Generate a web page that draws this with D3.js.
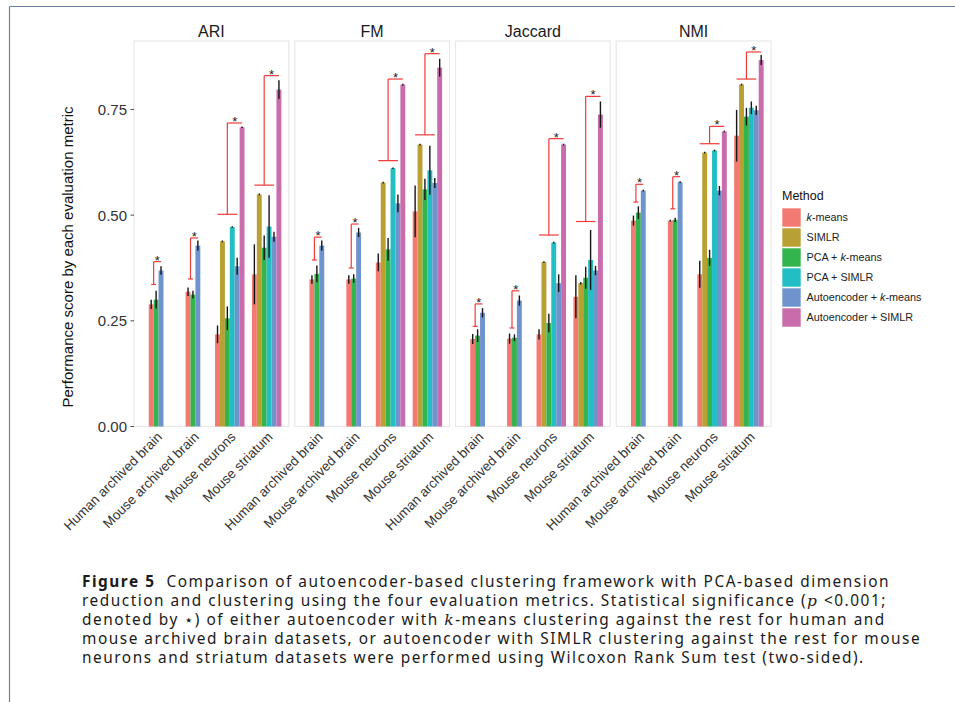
<!DOCTYPE html>
<html><head><meta charset="utf-8">
<script src="https://cdn.jsdelivr.net/npm/d3@7"></script>
<style>body{margin:0;background:#fff} svg{display:block}</style>
</head><body>
<svg id="c" width="955" height="702"></svg>
<script>
// ---------- data ----------
const metrics = ["ARI", "FM", "Jaccard", "NMI"];
const datasets = ["Human archived brain", "Mouse archived brain", "Mouse neurons", "Mouse striatum"];
const methods = ["k-means", "SIMLR", "PCA + k-means", "PCA + SIMLR", "Autoencoder + k-means", "Autoencoder + SIMLR"];
const yTicks = [0, 0.25, 0.5, 0.75];

// rows = datasets, columns = methods (null = method not shown)
const ariMean = [[0.289, null, 0.300, null, 0.369, null],
                 [0.319, null, 0.312, null, 0.428, null],
                 [0.218, 0.438, 0.256, 0.472, 0.379, 0.708],
                 [0.360, 0.549, 0.423, 0.473, 0.449, 0.797]];
const ariErr  = [[0.011, null, 0.021, null, 0.010, null],
                 [0.010, null, 0.009, null, 0.012, null],
                 [0.021, 0.002, 0.028, 0.002, 0.020, 0.002],
                 [0.071, 0.002, 0.029, 0.074, 0.012, 0.022]];
const fmMean  = [[0.348, null, 0.361, null, 0.428, null],
                 [0.348, null, 0.350, null, 0.459, null],
                 [0.388, 0.577, 0.419, 0.611, 0.528, 0.809],
                 [0.509, 0.667, 0.561, 0.606, 0.576, 0.849]];
const fmErr   = [[0.010, null, 0.020, null, 0.012, null],
                 [0.010, null, 0.010, null, 0.011, null],
                 [0.021, 0.002, 0.027, 0.002, 0.021, 0.002],
                 [0.061, 0.002, 0.025, 0.058, 0.012, 0.021]];
const jacMean = [[0.207, null, 0.215, null, 0.269, null],
                 [0.208, null, 0.210, null, 0.298, null],
                 [0.218, 0.389, 0.245, 0.435, 0.339, 0.667],
                 [0.307, 0.339, 0.352, 0.394, 0.369, 0.738]];
const jacErr  = [[0.012, null, 0.015, null, 0.011, null],
                 [0.012, null, 0.008, null, 0.012, null],
                 [0.012, 0.002, 0.022, 0.002, 0.021, 0.002],
                 [0.051, 0.003, 0.026, 0.071, 0.011, 0.031]];
const nmiMean = [[0.487, null, 0.506, null, 0.558, null],
                 [0.487, null, 0.489, null, 0.578, null],
                 [0.360, 0.648, 0.399, 0.653, 0.558, 0.698],
                 [0.688, 0.809, 0.733, 0.754, 0.748, 0.867]];
const nmiErr  = [[0.012, null, 0.015, null, 0.002, null],
                 [0.002, null, 0.005, null, 0.002, null],
                 [0.032, 0.002, 0.019, 0.002, 0.011, 0.002],
                 [0.061, 0.002, 0.021, 0.015, 0.011, 0.012]];

// significance brackets: [lower level, upper level] per dataset
const ariBracket = [[0.336, 0.390], [0.349, 0.446], [0.502, 0.718], [0.571, 0.830]];
const fmBracket  = [[0.394, 0.448], [0.375, 0.479], [0.629, 0.822], [0.690, 0.882]];
const jacBracket = [[0.237, 0.290], [0.233, 0.321], [0.453, 0.681], [0.485, 0.781]];
const nmiBracket = [[0.531, 0.573], [0.515, 0.591], [0.669, 0.710], [0.822, 0.886]];
// method compared against the rest, per dataset
const targetMethod = ["Autoencoder + k-means", "Autoencoder + k-means", "Autoencoder + SIMLR", "Autoencoder + SIMLR"];

const allMean = [ariMean, fmMean, jacMean, nmiMean];
const allErr = [ariErr, fmErr, jacErr, nmiErr];
const allBracket = [ariBracket, fmBracket, jacBracket, nmiBracket];

const colors = ["#f27a72", "#b8a033", "#34b44c", "#22bec3", "#6f93cc", "#c96cab"];

// ---------- layout ----------
const svg = d3.select("#c");
const frameColor = "#6b7fa3";
svg.append("line").attr("x1", 9.5).attr("y1", 6.5).attr("x2", 955).attr("y2", 6.5)
  .attr("stroke", frameColor).attr("stroke-width", 1.2);
svg.append("line").attr("x1", 9.5).attr("y1", 6.5).attr("x2", 9.5).attr("y2", 702)
  .attr("stroke", frameColor).attr("stroke-width", 1.2);

const plotLeft = 134, plotRight = 771, gap = 6, pTop = 41, pBottom = 426.5;
const pw = (plotRight - plotLeft - 3 * gap) / 4;
const y = d3.scaleLinear().domain([0, 0.912]).range([pBottom, pTop]);
const x = d3.scaleLinear().domain([0.4, 4.6]).range([0, pw]);
const dodge = 0.8, bw = dodge / 6;
const color = d3.scaleOrdinal().domain(methods).range(colors);
const font = "'Liberation Sans', Arial, sans-serif";

metrics.forEach((metric, m) => {
  const g = svg.append("g").attr("transform", `translate(${plotLeft + m * (pw + gap)},0)`);
  g.append("rect").attr("x", 0).attr("y", pTop).attr("width", pw).attr("height", pBottom - pTop)
    .attr("fill", "#fff").attr("stroke", "#e8e8e8").attr("stroke-width", 1.2);
  g.append("text").attr("x", pw / 2).attr("y", 36.5).attr("text-anchor", "middle")
    .attr("font-family", font).attr("font-size", 16).attr("fill", "#1a1a1a").text(metric);

  datasets.forEach((ds, i) => {
    const means = allMean[m][i], errs = allErr[m][i];
    const present = methods.map((meth, j) => ({ meth, j, v: means[j], e: errs[j] })).filter(d => d.v !== null);
    const n = present.length;
    present.forEach((d, k) => { d.cx = (i + 1) + (k - (n - 1) / 2) * bw; });

    g.selectAll(null).data(present).enter().append("rect")
      .attr("x", d => x(d.cx - bw / 2)).attr("width", x(bw) - x(0))
      .attr("y", d => y(d.v)).attr("height", d => y(0) - y(d.v))
      .attr("fill", d => color(d.meth));

    g.selectAll(null).data(present).enter().append("line")
      .attr("x1", d => x(d.cx)).attr("x2", d => x(d.cx))
      .attr("y1", d => y(d.v - d.e)).attr("y2", d => y(d.v + d.e))
      .attr("stroke", "#151515").attr("stroke-width", 1.4);

    // bracket
    const tgt = present.find(d => d.meth === targetMethod[i]);
    const rest = present.filter(d => d !== tgt);
    const [lo, hi] = allBracket[m][i];
    const r0 = rest[0].cx, r1 = rest[rest.length - 1].cx, mid = (r0 + r1) / 2;
    const bg = g.append("g").attr("stroke", "#f03a3a").attr("stroke-width", 1.2).attr("fill", "none");
    bg.append("line").attr("x1", x(r0)).attr("x2", x(r1)).attr("y1", y(lo)).attr("y2", y(lo));
    bg.append("line").attr("x1", x(mid)).attr("x2", x(mid)).attr("y1", y(lo)).attr("y2", y(hi));
    bg.append("line").attr("x1", x(mid)).attr("x2", x(tgt.cx)).attr("y1", y(hi)).attr("y2", y(hi));
    g.append("text").attr("x", x((mid + tgt.cx) / 2)).attr("y", y(hi) + 3)
      .attr("text-anchor", "middle").attr("font-family", font).attr("font-size", 13)
      .attr("fill", "#222").text("*");

    // x label
    g.append("text")
      .attr("transform", `translate(${x(i + 1)},431) rotate(-45)`)
      .attr("text-anchor", "end").attr("dy", "0.71em")
      .attr("font-family", font).attr("font-size", 13.5).attr("fill", "#333").text(ds);
  });
});

// y axis
const ya = svg.append("g");
yTicks.forEach(t => {
  ya.append("line").attr("x1", plotLeft - 3.5).attr("x2", plotLeft).attr("y1", y(t)).attr("y2", y(t))
    .attr("stroke", "#4d4d4d").attr("stroke-width", 1);
  ya.append("text").attr("x", plotLeft - 7).attr("y", y(t)).attr("dy", "0.36em")
    .attr("text-anchor", "end").attr("font-family", font).attr("font-size", 15)
    .attr("fill", "#333").text(d3.format(".2f")(t));
});
svg.append("text").attr("transform", "translate(73,257) rotate(-90)").attr("text-anchor", "middle")
  .attr("font-family", font).attr("font-size", 15).attr("fill", "#111")
  .text("Performance score by each evaluation metric");

// legend
const lg = svg.append("g");
lg.append("text").attr("x", 782).attr("y", 200).attr("font-family", font).attr("font-size", 12.5)
  .attr("fill", "#111").text("Method");
methods.forEach((meth, k) => {
  const ky = 208.3 + 20 * k;
  lg.append("rect").attr("x", 782.3).attr("y", ky).attr("width", 18.4).attr("height", 18.4)
    .attr("fill", color(meth));
  const t = lg.append("text").attr("x", 806.5).attr("y", ky + 9.2).attr("dy", "0.36em")
    .attr("font-family", font).attr("font-size", 10.8).attr("fill", "#222");
  const parts = meth.split("k-means");
  if (parts.length > 1) {
    t.append("tspan").text(parts[0]);
    t.append("tspan").attr("font-style", "italic").text("k");
    t.append("tspan").text("-means" + parts[1]);
  } else t.text(meth);
});

// caption
const capFont = "'Noto Sans', 'Open Sans', sans-serif";
const mathFont = "'DejaVu Serif', 'Liberation Serif', serif";
const capLines = [
  [["b", "Figure 5"], ["n", "  Comparison of autoencoder-based clustering framework with PCA-based dimension"]],
  [["n", "reduction and clustering using the four evaluation metrics. Statistical significance ("], ["i", "p"], ["n", " <0.001;"]],
  [["n", "denoted by \u22c6) of either autoencoder with "], ["i", "k"], ["n", "-means clustering against the rest for human and"]],
  [["n", "mouse archived brain datasets, or autoencoder with SIMLR clustering against the rest for mouse"]],
  [["n", "neurons and striatum datasets were performed using Wilcoxon Rank Sum test (two-sided)."]]
];
const capFs = 15.4;
const cap = svg.append("g").attr("font-family", capFont).attr("font-size", capFs).attr("fill", "#1a1a1a");
const capTexts = capLines.map((line, li) => {
  const t = cap.append("text").attr("x", 82).attr("y", 586.5 + li * 19.2)
    .style("white-space", "pre");
  line.forEach(([kind, str]) => {
    const s = t.append("tspan").text(str);
    if (kind === "b") s.attr("font-weight", "bold");
    if (kind === "i") s.attr("font-style", "italic").attr("font-family", mathFont);
  });
  return t;
});
// fit caption letter spacing to the first line's width
const w0 = capTexts[0].node().getComputedTextLength();
const nChars = capLines[0].map(p => p[1]).join("").length;
cap.attr("letter-spacing", ((808 - w0) / nChars).toFixed(3));
</script>
</body></html>
